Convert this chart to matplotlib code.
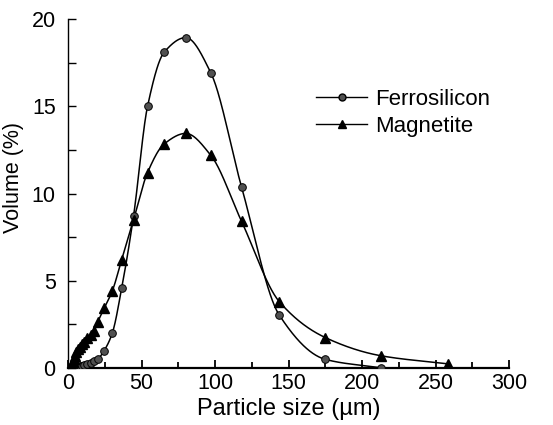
import numpy as np
import matplotlib
matplotlib.use("Agg")
import matplotlib.pyplot as plt
from matplotlib.ticker import MultipleLocator

plt.rcParams["font.family"] = ["Liberation Sans", "DejaVu Sans"]

# particle size distribution (volume %) vs size in micrometres
fesi_size = [4.5, 5.5, 6.6, 7.8, 9.2, 10.9, 12.9, 15.2, 17.6, 20.0, 24.4, 30.0,
             36.4, 44.5, 54.0, 65.4, 80.0, 97.0, 118.0, 143.6, 175.0, 212.6]
fesi_vol = [0.0, 0.02, 0.04, 0.07, 0.1, 0.14, 0.19, 0.27, 0.37, 0.48, 0.97, 1.98,
            4.56, 8.72, 15.0, 18.12, 18.95, 16.94, 10.37, 3.03, 0.48, 0.0]

mag_size = [2.5, 3.2, 3.9, 4.7, 5.6, 6.6, 7.8, 9.2, 10.9, 12.9, 15.2, 17.6, 20.0,
            24.4, 30.0, 36.4, 44.5, 54.0, 65.4, 80.0, 97.0, 118.0, 143.6, 175.0,
            212.6, 258.5]
mag_vol = [0.1, 0.3, 0.5, 0.7, 0.9, 1.05, 1.2, 1.35, 1.5, 1.7, 1.9, 2.1, 2.6,
           3.4, 4.4, 6.2, 8.5, 11.2, 12.85, 13.45, 12.2, 8.4, 3.8, 1.73, 0.69, 0.22]


def pchip(x, y, n=600):
    # monotone cubic (Fritsch-Carlson) so the smoothed line does not overshoot
    x = np.asarray(x, float)
    y = np.asarray(y, float)
    h = np.diff(x)
    d = np.diff(y) / h
    m = np.zeros_like(y)
    for k in range(1, len(y) - 1):
        if d[k - 1] * d[k] > 0:
            w1 = 2 * h[k] + h[k - 1]
            w2 = h[k] + 2 * h[k - 1]
            m[k] = (w1 + w2) / (w1 / d[k - 1] + w2 / d[k])
    m[0] = d[0]
    m[-1] = d[-1]
    xs = np.linspace(x[0], x[-1], n)
    idx = np.clip(np.searchsorted(x, xs) - 1, 0, len(x) - 2)
    t = (xs - x[idx]) / h[idx]
    h00 = 2 * t**3 - 3 * t**2 + 1
    h10 = t**3 - 2 * t**2 + t
    h01 = -2 * t**3 + 3 * t**2
    h11 = t**3 - t**2
    ys = h00 * y[idx] + h10 * h[idx] * m[idx] + h01 * y[idx + 1] + h11 * h[idx] * m[idx + 1]
    return xs, ys


fig = plt.figure(figsize=(5.53, 4.25), dpi=100)
ax = fig.add_axes([0.1233, 0.1348, 0.7971, 0.8198])

xs, ys = pchip(fesi_size, fesi_vol)
ax.plot(xs, ys, color="black", lw=1.1, zorder=2)
ax.plot(fesi_size, fesi_vol, linestyle="none", marker="o", ms=5.5,
        mfc="#505050", mec="black", mew=0.7, zorder=3)

xs, ys = pchip(mag_size, mag_vol)
ax.plot(xs, ys, color="black", lw=1.1, zorder=2)
ax.plot(mag_size, mag_vol, linestyle="none", marker="^", ms=6.5,
        mfc="black", mec="black", zorder=3)

# legend handles: line with one marker in the middle
h1, = ax.plot([], [], color="black", lw=1.0, marker="o", ms=5, mfc="#505050", mec="black")
h2, = ax.plot([], [], color="black", lw=1.0, marker="^", ms=5.5, mfc="black", mec="black")
fig.legend([h1, h2], ["Ferrosilicon", "Magnetite"], loc="upper left",
           bbox_to_anchor=(0.572, 0.79), frameon=False, fontsize=16,
           handlelength=2.3, handletextpad=0.35, labelspacing=0.25,
           borderpad=0, borderaxespad=0, numpoints=1)

ax.set_xlim(0, 300)
ax.set_ylim(0, 20)
ax.xaxis.set_major_locator(MultipleLocator(50))
ax.xaxis.set_minor_locator(MultipleLocator(25))
ax.yaxis.set_major_locator(MultipleLocator(5))
ax.yaxis.set_minor_locator(MultipleLocator(2.5))

ax.spines["top"].set_visible(False)
ax.spines["right"].set_visible(False)
ax.spines["bottom"].set_linewidth(1.6)
ax.spines["left"].set_linewidth(1.0)

ax.tick_params(axis="both", which="both", direction="in", labelsize=15.5)
ax.tick_params(axis="x", which="major", length=6, width=1.3, pad=4)
ax.tick_params(axis="x", which="minor", length=4, width=1.3)
ax.tick_params(axis="y", which="major", length=6, width=1.0, pad=9)
ax.tick_params(axis="y", which="minor", length=6, width=1.0)

ax.set_xlabel("Particle size (µm)", fontsize=17, va="baseline")
ax.set_ylabel("Volume (%)", fontsize=15.5)
ax.xaxis.set_label_coords(0.5, -0.137)
ax.yaxis.set_label_coords(-0.10, 0.545)

fig.savefig("out.png", dpi=100)
